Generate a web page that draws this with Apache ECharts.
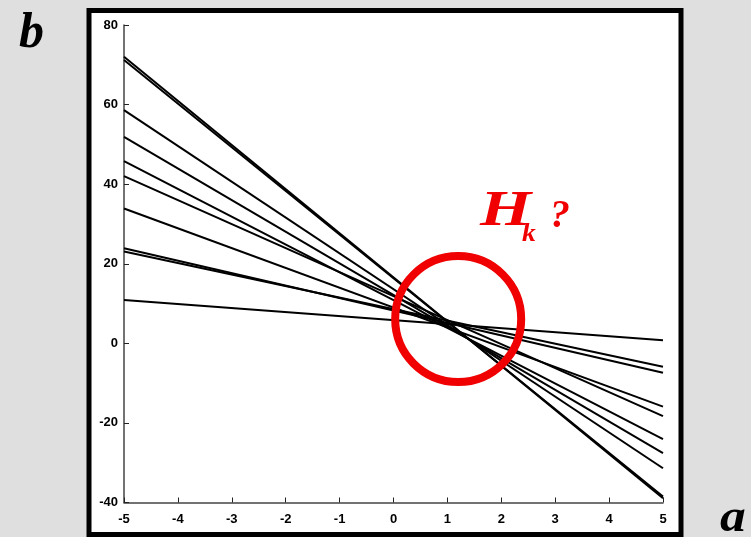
<!DOCTYPE html>
<html><head><meta charset="utf-8">
<script src="https://cdn.jsdelivr.net/npm/echarts@6/dist/echarts.min.js"></script>
<style>html,body{margin:0;padding:0;background:#dfdfdf}#c{width:751px;height:537px}</style>
</head><body><div id="c"></div>
<script>
// Values of each line at a = -5 (left) and a = 5 (right)
const aRange = [-5, 5];
const bAtLeft  = [72.0, 71.2, 58.6, 51.9, 45.8, 42.0, 33.9, 23.9, 23.1, 10.9];
const bAtRight = [-38.9, -38.5, -31.4, -27.6, -24.1, -18.3, -15.9, -7.4, -5.9, 0.8];
// Red circle marking the near-intersection region H_k
const circleCenter = [1.2, 6.1];
const xTicks = [-5, -4, -3, -2, -1, 0, 1, 2, 3, 4, 5];
const yTicks = [-40, -20, 0, 20, 40, 60, 80];

const chart = echarts.init(document.getElementById('c'), null, {renderer: 'canvas'});
const lineSeries = bAtLeft.map((v, i) => ({
  type: 'line',
  data: [[aRange[0], v], [aRange[1], bAtRight[i]]],
  showSymbol: false,
  silent: true,
  z: 3,
  lineStyle: {color: '#000', width: 2}
}));
const serif = 'Liberation Serif, Times New Roman, serif';
const red = '#f00000';
chart.setOption({
  animation: false,
  backgroundColor: '#dfdfdf',
  grid: {left: 124, right: 88, top: 25, bottom: 34.5},
  xAxis: {
    type: 'value', min: xTicks[0], max: xTicks[xTicks.length - 1], interval: 1,
    splitLine: {show: false},
    axisLine: {onZero: false, lineStyle: {color: '#444', width: 1.5}},
    axisTick: {inside: true, length: 5, lineStyle: {color: '#222'}},
    axisLabel: {color: '#000', fontSize: 13, fontWeight: 'bold', fontFamily: 'Liberation Sans, Arial', margin: 10}
  },
  yAxis: {
    type: 'value', min: yTicks[0], max: yTicks[yTicks.length - 1], interval: 20,
    splitLine: {show: false},
    axisLine: {show: true, onZero: false, lineStyle: {color: '#444', width: 1.5}},
    axisTick: {show: true, inside: true, length: 5, lineStyle: {color: '#222'}},
    axisLabel: {color: '#000', fontSize: 13, fontWeight: 'bold', fontFamily: 'Liberation Sans, Arial', margin: 6}
  },
  graphic: [
    {type: 'rect', z: -10, silent: true, shape: {x: 89, y: 10.5, width: 592, height: 524},
     style: {fill: '#fff', stroke: '#000', lineWidth: 5}},
    {type: 'text', left: 19, top: 9, silent: true,
     style: {text: 'b', font: 'italic bold 50px ' + serif, fill: '#000'}},
    {type: 'text', x: 720, y: 496, scaleX: 1.12, silent: true,
     style: {text: 'a', font: 'italic bold 46px ' + serif, fill: '#000'}},
    {type: 'text', x: 480, y: 187, scaleX: 1.32, silent: true, z: 10,
     style: {text: 'H', font: 'italic bold 50px ' + serif, fill: red}},
    {type: 'text', x: 522, y: 222, scaleX: 1.1, silent: true, z: 10,
     style: {text: 'k', font: 'italic bold 25px ' + serif, fill: red}},
    {type: 'text', x: 550, y: 197, silent: true, z: 10,
     style: {text: '?', font: 'italic bold 40px ' + serif, fill: red}}
  ],
  series: lineSeries.concat([{
    type: 'scatter',
    data: [circleCenter],
    symbol: 'circle',
    symbolSize: 126,
    silent: true,
    z: 5,
    itemStyle: {color: 'rgba(0,0,0,0)', borderColor: red, borderWidth: 8, opacity: 1}
  }])
});
</script></body></html>
